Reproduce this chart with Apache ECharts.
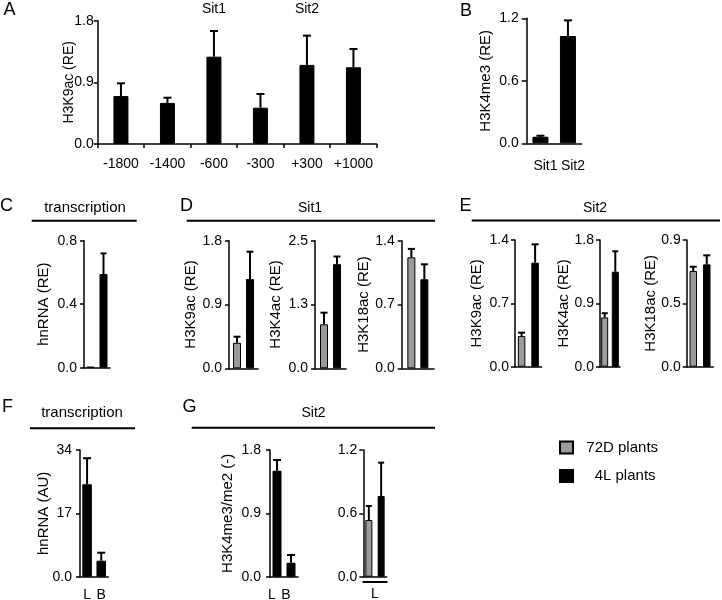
<!DOCTYPE html>
<html><head><meta charset="utf-8">
<script src="https://cdn.jsdelivr.net/npm/echarts@6/dist/echarts.min.js"></script>
<style>html,body{margin:0;padding:0;background:#fff}#c{width:722px;height:600px}</style>
</head><body><div id="c"></div>
<script>
// ================= DATA =================
const seriesNames = ['72D plants', '4L plants'];

// Panel A
const catsA = ['-1800', '-1400', '-600', '-300', '+300', '+1000'];
const siteLabelsA = ['', '', 'Sit1', '', 'Sit2', ''];
const valsA = [0.70, 0.60, 1.275, 0.53, 1.155, 1.12];
const errA = [0.186, 0.076, 0.375, 0.20, 0.427, 0.267];
const ticksA = ['0.0', '0.9', '1.8'];

// Panel B
const catsB = ['Sit1', 'Sit2'];
const valsB = [0.063, 1.03];
const errB = [0.01, 0.15];
const ticksB = ['0.0', '0.6', '1.2'];

// Grouped panels: values ordered [72D plants, 4L plants]
const valsC = [0.006, 0.59];  const errC = [0, 0.13];      const ticksC = ['0.0', '0.4', '0.8'];
const valsD1 = [0.36, 1.26];  const errD1 = [0.086, 0.385]; const ticksD1 = ['0.0', '0.9', '1.8'];
const valsD2 = [0.862, 2.04]; const errD2 = [0.228, 0.15];  const ticksD2 = ['0.0', '1.3', '2.5'];
const valsD3 = [1.218, 0.977]; const errD3 = [0.092, 0.164]; const ticksD3 = ['0.0', '0.7', '1.4'];
const valsE1 = [0.339, 1.149]; const errE1 = [0.037, 0.203]; const ticksE1 = ['0.0', '0.7', '1.4'];
const valsE2 = [0.70, 1.35];  const errE2 = [0.06, 0.29];   const ticksE2 = ['0.0', '0.9', '1.8'];
const valsE3 = [0.68, 0.727]; const errE3 = [0.03, 0.064];  const ticksE3 = ['0.0', '0.5', '0.9'];

// Panel F
const catsF = ['L', 'B'];
const valsF = [24.8, 4.3];
const errF = [7.0, 2.14];
const ticksF = ['0.0', '17', '34'];

// Panel G
const catsG1 = ['L', 'B'];
const valsG1 = [1.506, 0.199];
const errG1 = [0.152, 0.109];
const ticksG1 = ['0.0', '0.9', '1.8'];
const catsG2 = ['L'];
const valsG2 = [0.537, 0.764];
const errG2 = [0.133, 0.316];
const ticksG2 = ['0.0', '0.6', '1.2'];

// ================= STYLE / LAYOUT =================
const FONT = '"Liberation Sans", Arial, Helvetica, sans-serif';
const GRAY = '#9b9b9b', BLACK = '#000';
const AX = { color: '#000', width: 1.5 };

const option = {
  animation: false,
  backgroundColor: '#fff',
  textStyle: { fontFamily: FONT, color: '#000' },
  grid: [], xAxis: [], yAxis: [], series: [], graphic: [],
  legend: {
    data: seriesNames, orient: 'vertical', left: 554, top: 435,
    icon: 'rect', itemWidth: 13, itemHeight: 12, itemGap: 13.5, selectedMode: false,
    textStyle: { fontSize: 15, color: '#000', fontFamily: FONT },
    formatter: n => n === '4L plants' ? '    4L plants' : '  72D plants'
  }
};

function addPanel(p) {
  const gi = option.grid.length;
  option.grid.push({ left: p.left, top: p.top, width: p.right - p.left, height: p.bottom - p.top,
    containLabel: false, outerBoundsMode: 'none' });
  const xi = option.xAxis.length;
  option.xAxis.push({
    type: 'category', gridIndex: gi, data: p.cats, boundaryGap: true,
    axisLine: { show: true, lineStyle: AX },
    axisTick: { show: !!p.xTicks, length: 4, inside: false, alignWithLabel: false, interval: 0, lineStyle: AX },
    axisLabel: { show: !!p.xLabels, interval: 0, margin: p.xMargin || 8, color: '#000', fontSize: 14,
      fontFamily: FONT, padding: p.xPad || 0, hideOverlap: false },
    splitLine: { show: false }
  });
  if (p.topLabels) {
    option.xAxis.push({
      type: 'category', gridIndex: gi, position: 'top', data: p.topLabels, boundaryGap: true,
      axisLine: { show: false }, axisTick: { show: false }, splitLine: { show: false },
      axisLabel: { show: true, interval: 0, margin: 5, color: '#000', fontSize: 14, fontFamily: FONT }
    });
  }
  if (p.subCats) {
    option.xAxis.push({
      type: 'category', gridIndex: gi, position: 'bottom', offset: 5, data: p.subCats, boundaryGap: true,
      axisLine: { show: true, lineStyle: { color: '#000', width: 2 } }, axisTick: { show: false }, splitLine: { show: false },
      axisLabel: { show: true, interval: 0, margin: 5, color: '#000', fontSize: 14, fontFamily: FONT }
    });
  }
  const yi = option.yAxis.length;
  const max = parseFloat(p.ticks[p.ticks.length - 1]);
  const interval = max / (p.ticks.length - 1);
  option.yAxis.push({
    type: 'value', gridIndex: gi, min: 0, max: max, interval: interval,
    splitLine: { show: false },
    axisLine: { show: true, lineStyle: AX },
    axisTick: { show: true, length: p.tickLen || 4, lineStyle: AX },
    axisLabel: { margin: p.yMargin, fontSize: 14, color: '#000', fontFamily: FONT,
      formatter: v => p.ticks[Math.round(v / interval)] },
    name: p.title || '', nameLocation: 'middle', nameGap: p.nameGap || 30, nameMoveOverlap: false,
    nameTextStyle: { fontSize: p.titleSize || 15, color: '#000', fontFamily: FONT }
  });

  const bw = p.bw;
  let off = 0;
  let errData;
  if (p.grouped) {
    const gap = p.gap;
    off = (bw + gap) / 2;
    seriesNames.forEach((nm, k) => {
      option.series.push({
        type: 'bar', name: nm, xAxisIndex: xi, yAxisIndex: yi, data: [p.vals[k]],
        barWidth: bw, barGap: (gap / bw * 100) + '%',
        itemStyle: { color: k ? BLACK : GRAY, borderColor: '#000', borderWidth: 1 }
      });
    });
    errData = [[0, p.vals[0], p.errs[0], -1], [0, p.vals[1], p.errs[1], 1]];
  } else {
    option.series.push({
      type: 'bar', name: '4L plants', xAxisIndex: xi, yAxisIndex: yi, data: p.vals,
      barWidth: bw, itemStyle: { color: BLACK, borderColor: '#000', borderWidth: 1 }
    });
    errData = p.vals.map((v, i) => [i, v, p.errs[i], 0]);
  }
  const cap = p.cap;
  option.series.push({
    type: 'custom', xAxisIndex: xi, yAxisIndex: yi, data: errData, z: 5,
    encode: { x: 0, y: 1 },
    renderItem: (params, api) => {
      const e = api.value(2);
      if (!e) return { type: 'group', children: [] };
      const c = api.value(0), m = api.value(1), side = api.value(3);
      const p0 = api.coord([c, m]);
      const p1 = api.coord([c, m + e]);
      const x = p0[0] + side * off;
      return { type: 'group', children: [
        { type: 'line', shape: { x1: x, y1: p0[1], x2: x, y2: p1[1] }, style: { stroke: '#000', lineWidth: 2 } },
        { type: 'line', shape: { x1: x - cap, y1: p1[1], x2: x + cap, y2: p1[1] }, style: { stroke: '#000', lineWidth: 2 } }
      ] };
    }
  });
}

// Panels
addPanel({ left: 97.7, right: 376.7, top: 20.7, bottom: 144, cats: catsA, vals: valsA, errs: errA, ticks: ticksA,
  bw: 15, cap: 4, xTicks: true, xLabels: true, xMargin: 13, yMargin: 4, title: 'H3K9ac (RE)', nameGap: 22, titleSize: 14,
  topLabels: siteLabelsA });
addPanel({ left: 526.7, right: 581.7, top: 18.3, bottom: 143.3, cats: catsB, vals: valsB, errs: errB, ticks: ticksB,
  bw: 16, cap: 4, xLabels: true, xMargin: 16, xPad: [0, 0, 0, 10], yMargin: 8, tickLen: 5, title: 'H3K4me3 (RE)', nameGap: 33 });
addPanel({ left: 84, right: 110, top: 240.7, bottom: 367.7, cats: [''], grouped: true, vals: valsC, errs: errC, ticks: ticksC,
  bw: 8, gap: 5, cap: 3, yMargin: 7, title: 'hnRNA (RE)', nameGap: 33 });
addPanel({ left: 229, right: 258, top: 240.7, bottom: 368.3, cats: [''], grouped: true, vals: valsD1, errs: errD1, ticks: ticksD1,
  bw: 8, gap: 5, cap: 3.5, yMargin: 7, title: 'H3K9ac (RE)', nameGap: 31 });
addPanel({ left: 315, right: 346, top: 240.7, bottom: 368.3, cats: [''], grouped: true, vals: valsD2, errs: errD2, ticks: ticksD2,
  bw: 8, gap: 5, cap: 3.5, yMargin: 7, title: 'H3K4ac (RE)', nameGap: 32 });
addPanel({ left: 401.7, right: 434, top: 240.7, bottom: 368.3, cats: [''], grouped: true, vals: valsD3, errs: errD3, ticks: ticksD3,
  bw: 8, gap: 5, cap: 3.5, yMargin: 7, title: 'H3K18ac (RE)', nameGap: 30 });
addPanel({ left: 515, right: 541.7, top: 240, bottom: 366.7, cats: [''], grouped: true, vals: valsE1, errs: errE1, ticks: ticksE1,
  bw: 7.5, gap: 6, cap: 3.5, yMargin: 6, title: 'H3K9ac (RE)', nameGap: 31 });
addPanel({ left: 600, right: 620, top: 240, bottom: 366.7, cats: [''], grouped: true, vals: valsE2, errs: errE2, ticks: ticksE2,
  bw: 7, gap: 3.6, cap: 3, yMargin: 6, title: 'H3K4ac (RE)', nameGap: 29 });
addPanel({ left: 686.7, right: 713.3, top: 240, bottom: 366.7, cats: [''], grouped: true, vals: valsE3, errs: errE3, ticks: ticksE3,
  bw: 7.5, gap: 6, cap: 3.5, yMargin: 6, title: 'H3K18ac (RE)', nameGap: 28 });
addPanel({ left: 80, right: 108.3, top: 450, bottom: 576.7, cats: catsF, vals: valsF, errs: errF, ticks: ticksF,
  bw: 9.5, cap: 4, xLabels: true, xMargin: 11, yMargin: 8, title: 'hnRNA (AU)', nameGap: 29 });
addPanel({ left: 270, right: 298, top: 450, bottom: 576.7, cats: catsG1, vals: valsG1, errs: errG1, ticks: ticksG1,
  bw: 9, cap: 4, xLabels: true, xMargin: 11, xPad: [0, 10, 0, 0], yMargin: 9, title: 'H3K4me3/me2 (-)', nameGap: 35 });
addPanel({ left: 363.3, right: 386.7, top: 450, bottom: 576.7, cats: [''], grouped: true, vals: valsG2, errs: errG2, ticks: ticksG2,
  bw: 7, gap: 5.3, cap: 3, yMargin: 6, subCats: catsG2 });

// Annotations: panel letters and section headers
function txt(s, x, y, size) {
  option.graphic.push({ type: 'text', x: x, y: y, silent: true,
    style: { text: s, fill: '#000', fontSize: size, fontFamily: FONT, textAlign: 'center', textVerticalAlign: 'middle' } });
}
function hline(x1, x2, y) {
  option.graphic.push({ type: 'line', silent: true, shape: { x1: x1, y1: y, x2: x2, y2: y }, style: { stroke: '#000', lineWidth: 2 } });
}
txt('A', 9.5, 10, 18); txt('B', 466, 11, 18);
txt('C', 6.5, 206, 18); txt('D', 186.5, 206, 18); txt('E', 465.5, 206, 18);
txt('F', 7.5, 407.5, 18); txt('G', 189.5, 407.5, 18);
txt('transcription', 85, 208, 15); hline(31.7, 136.7, 220.7);
txt('Sit1', 310, 208, 14); hline(186.7, 435, 220.7);
txt('Sit2', 595, 208, 14); hline(471.7, 720, 220.5);
txt('transcription', 82, 413, 15); hline(30, 135, 428.3);
txt('Sit2', 313.5, 413, 14); hline(191.7, 435, 427.7);

const chart = echarts.init(document.getElementById('c'), null, { renderer: 'canvas' });
chart.setOption(option);
</script>
</body></html>
